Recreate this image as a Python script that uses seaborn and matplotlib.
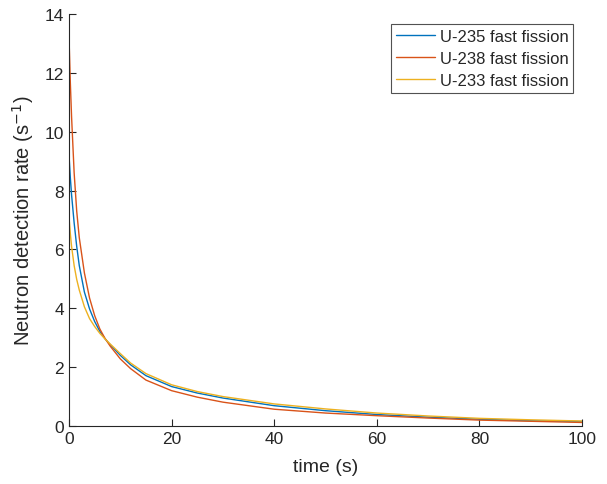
import pandas as pd
import numpy as np
import seaborn as sns
import matplotlib.pyplot as plt

# values
time_s = [0, 0.25, 0.5, 1, 1.5, 2, 3, 4, 5, 6, 7, 8, 10, 12, 15,
          20, 25, 30, 40, 50, 60, 70, 80, 90, 100]
u235 = [9.2, 8.45, 7.85, 6.9, 6.1, 5.45, 4.55, 3.98, 3.55, 3.22, 2.97, 2.77, 2.4, 2.08, 1.71,
        1.34, 1.12, 0.95, 0.69, 0.52, 0.39, 0.3, 0.23, 0.18, 0.15]
u238 = [13.2, 11.7, 10.5, 8.6, 7.3, 6.4, 5.2, 4.35, 3.75, 3.3, 2.98, 2.72, 2.28, 1.95, 1.56,
        1.2, 0.98, 0.81, 0.57, 0.44, 0.35, 0.27, 0.2, 0.16, 0.12]
u233 = [7.1, 6.55, 6.1, 5.45, 4.98, 4.62, 4.05, 3.65, 3.38, 3.15, 2.96, 2.79, 2.46, 2.14, 1.78,
        1.4, 1.17, 1.0, 0.75, 0.58, 0.44, 0.34, 0.26, 0.21, 0.17]

labels = ['U-235 fast fission', 'U-238 fast fission', 'U-233 fast fission']
colors = ['#0072BD', '#D95319', '#EDB120']

df = pd.DataFrame({'time': time_s * 3,
                   'rate': u235 + u238 + u233,
                   'series': np.repeat(labels, len(time_s))})

sns.set_style('ticks')
plt.rcParams['font.family'] = ['Liberation Sans', 'DejaVu Sans']

fig = plt.figure(figsize=(6.07, 4.85), dpi=100)
ax = fig.add_axes([0.1137, 0.1196, 0.8452, 0.8495])

sns.lineplot(data=df, x='time', y='rate', hue='series', palette=colors,
             linewidth=1.0, ax=ax, sort=False)

ax.set_xlim(0, 100)
ax.set_ylim(0, 14)
ax.set_xticks(range(0, 101, 20))
ax.set_yticks(range(0, 15, 2))
ax.tick_params(direction='in', length=5, width=0.8, colors='#262626', labelsize=12.5)
for s in ['top', 'right']:
    ax.spines[s].set_visible(False)
for s in ['left', 'bottom']:
    ax.spines[s].set_color('#262626')
    ax.spines[s].set_linewidth(0.8)

ax.set_xlabel('time (s)', fontsize=14, color='#262626', labelpad=9)
ax.set_ylabel('Neutron detection rate (s$^{-1}$)', fontsize=14.5, color='#262626', labelpad=6)

leg = ax.legend(loc='upper right', bbox_to_anchor=(0.983, 0.975), fontsize=12,
                frameon=True, fancybox=False, handlelength=2.3, handletextpad=0.3,
                borderpad=0.3, labelspacing=0.4, borderaxespad=0)
leg.get_frame().set_edgecolor('#262626')
leg.get_frame().set_linewidth(0.8)

fig.savefig('out.png', dpi=100)
